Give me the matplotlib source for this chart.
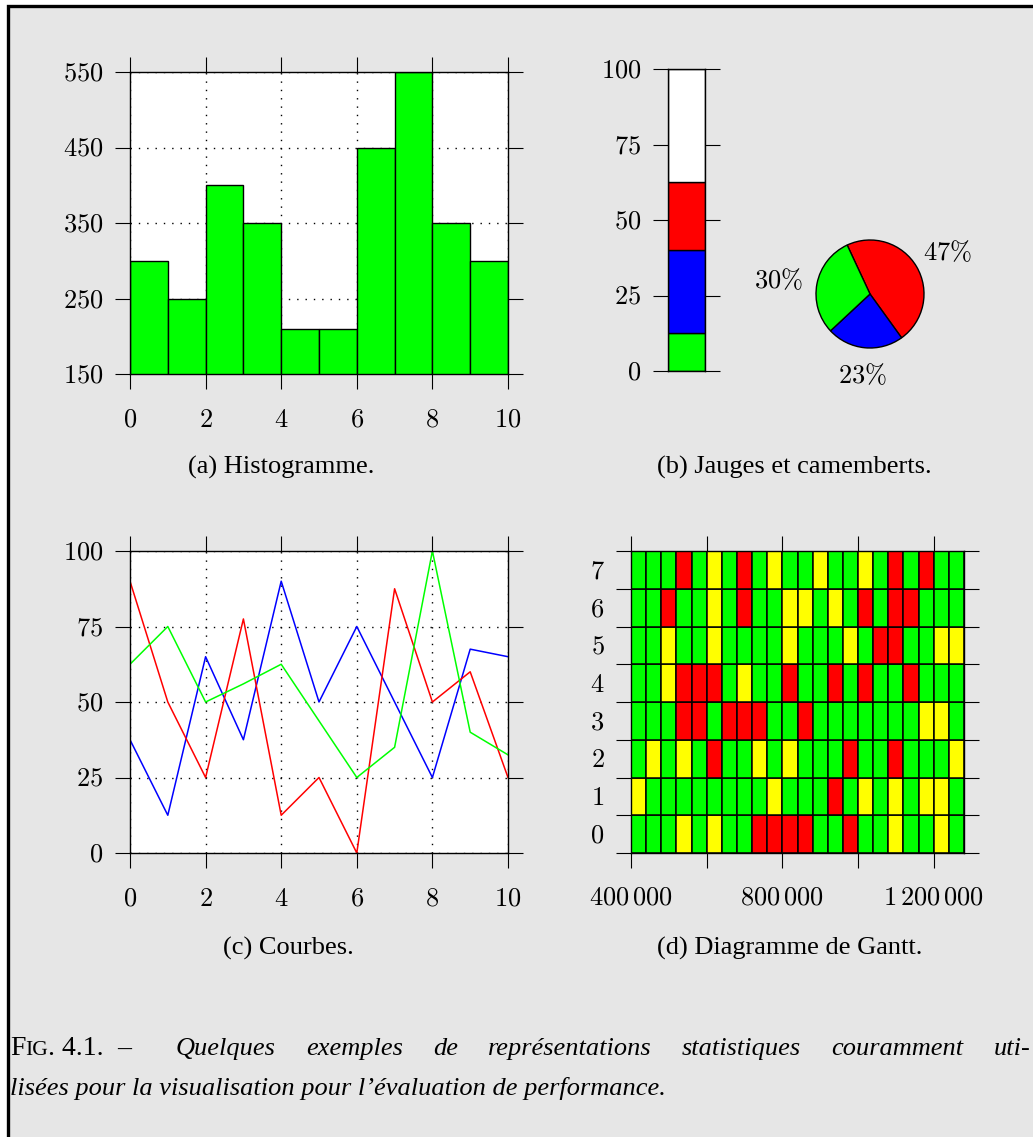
import matplotlib
matplotlib.use('Agg')
import matplotlib.pyplot as plt
from matplotlib import ticker
from matplotlib.patches import Rectangle

plt.rcParams['mathtext.fontset'] = 'cm'
plt.rcParams['font.family'] = ['Liberation Serif', 'DejaVu Serif']

# --- données ---
# (a) histogramme
hist_edges = [0, 1, 2, 3, 4, 5, 6, 7, 8, 9, 10]
hist_values = [300, 250, 400, 350, 210, 210, 450, 550, 350, 300]

# (b) jauge + camembert
gauge_parts = [12.5, 27.5, 22.5, 37.5]          # vert, bleu, rouge, libre
gauge_colors = ['#00ff00', '#0000ff', '#ff0000', 'white']
pie_values = [47, 23, 30]
pie_labels = ['$47\\%$', '$23\\%$', '$30\\%$']
pie_colors = ['#ff0000', '#0000ff', '#00ff00']

# (c) courbes
curve_x = [0, 1, 2, 3, 4, 5, 6, 7, 8, 9, 10]
curve_blue = [37.5, 12.5, 65, 37.5, 90, 50, 75, 50, 25, 67.5, 65]
curve_red = [90, 50, 25, 77.5, 12.5, 25, 0, 87.5, 50, 60, 25]
curve_green = [62.5, 75, 50, 56, 62.5, 43.75, 25, 35, 100, 40, 32.5]

# (d) Gantt : une chaîne par ligne (0 en bas), G=vert, Y=jaune, R=rouge
gantt_t0 = 400000
gantt_slot = 40000
gantt_rows = [
    "GGGYGYGGRRRRGGRGGYGGYG",  # 0
    "YGGGGGGGGYGGGRGYGYGYYG",  # 1
    "GYGYGRGGYGYGGGRGGRGGGY",  # 2
    "GGGRRGRRRGGRGGGGGGGYYG",  # 3
    "GGYRRRGYGGRGGRGRGGRGGG",  # 4
    "GGYGGYGGGGYGGGYGRRGGYY",  # 5
    "GGRGGYGRGGYYGYGRGRRGGG",  # 6
    "GGGRGYGRGYGGYGGYGRGRGG",  # 7
]
gantt_xticks = [400000, 600000, 800000, 1000000, 1200000]
gantt_xtick_labels = ['$400\\,000$', '', '$800\\,000$', '', '$1\\,200\\,000$']
state_colors = {'G': '#00ff00', 'Y': '#ffff00', 'R': '#ff0000'}

captions = ['(a) Histogramme.', '(b) Jauges et camemberts.',
            '(c) Courbes.', '(d) Diagramme de Gantt.']
fig_line1 = 'Quelques exemples de représentations statistiques couramment uti-'
fig_line2 = 'lisées pour la visualisation pour l’évaluation de performance.'

W, H = 1033, 1137
fig = plt.figure(figsize=(W / 100, H / 100), dpi=100, facecolor='white')

# cadre gris
fig.patches.append(Rectangle((8 / W, -0.05), 1.1, 1.05 - 6.5 / H,
                             transform=fig.transFigure, facecolor='#e6e6e6',
                             edgecolor='black', linewidth=2.4, zorder=-10))


def px_axes(x0, y0, x1, y1):
    return fig.add_axes([x0 / W, 1 - y1 / H, (x1 - x0) / W, (y1 - y0) / H])


fmt = ticker.FuncFormatter(lambda v, p: f'${v:g}$')
TL = 10.8
FS = 19


def style_ticks(ax):
    ax.tick_params(direction='out', length=TL, width=0.8, top=True, right=True,
                   labelsize=FS)
    ax.tick_params(axis='x', pad=15)
    ax.tick_params(axis='y', pad=8.5)
    for s in ax.spines.values():
        s.set_linewidth(1)


# (a)
ax1 = px_axes(130, 72, 508, 374)
ax1.bar(hist_edges[:-1], hist_values, width=1, align='edge', color='#00ff00',
        edgecolor='black', linewidth=1)
ax1.set_xlim(0, 10)
ax1.set_ylim(150, 550)
ax1.set_xticks([0, 2, 4, 6, 8, 10])
ax1.set_yticks([150, 250, 350, 450, 550])
ax1.xaxis.set_major_formatter(fmt)
ax1.yaxis.set_major_formatter(fmt)
ax1.grid(True, color='black', linestyle=(0, (1, 5)), linewidth=1)
ax1.set_axisbelow(True)
style_ticks(ax1)

# (c)
ax3 = px_axes(130, 551, 508, 853)
ax3.plot(curve_x, curve_blue, color='#0000ff', linewidth=1.1)
ax3.plot(curve_x, curve_red, color='#ff0000', linewidth=1.1)
ax3.plot(curve_x, curve_green, color='#00ff00', linewidth=1.1)
ax3.set_xlim(0, 10)
ax3.set_ylim(0, 100)
ax3.set_xticks([0, 2, 4, 6, 8, 10])
ax3.set_yticks([0, 25, 50, 75, 100])
ax3.xaxis.set_major_formatter(fmt)
ax3.yaxis.set_major_formatter(fmt)
ax3.grid(True, color='black', linestyle=(0, (1, 5)), linewidth=1)
ax3.set_axisbelow(True)
style_ticks(ax3)

# (b) jauge
ax2 = px_axes(667.5, 69, 705, 371)
bottom = 0
for part, c in zip(gauge_parts, gauge_colors):
    ax2.bar(0, part, bottom=bottom, width=1, align='edge', color=c,
            edgecolor='black', linewidth=1)
    bottom += part
ax2.set_xlim(0, 1)
ax2.set_ylim(0, 100)
ax2.set_xticks([])
ax2.set_yticks([0, 25, 50, 75, 100])
ax2.yaxis.set_major_formatter(fmt)
ax2.tick_params(axis='y', direction='out', length=TL, width=0.8, right=True,
                labelsize=FS, pad=8)
for s in ax2.spines.values():
    s.set_linewidth(1)

# (b) camembert
axp = px_axes(816, 240, 924, 348)
wedges, texts = axp.pie(pie_values, colors=pie_colors, startangle=115,
                        counterclock=False, labels=pie_labels, labeldistance=1.0,
                        wedgeprops=dict(edgecolor='black', linewidth=1),
                        textprops=dict(fontsize=FS))
for t, d in zip(texts, [1.67, 1.44, 1.72]):
    x, y = t.get_position()
    t.set_position((x * d, y * d - 0.08))
    t.set_ha('center')
    t.set_va('center')
axp.set_xlim(-1, 1)
axp.set_ylim(-1, 1)

# (d) Gantt
ax4 = px_axes(631, 551, 964, 853)
for row, states in enumerate(gantt_rows):
    starts = [gantt_t0 + i * gantt_slot for i in range(len(states))]
    ax4.barh(row, [gantt_slot] * len(states), left=starts, height=1,
             align='edge', color=[state_colors[s] for s in states],
             edgecolor='black', linewidth=1.1)
ax4.set_xlim(gantt_t0, gantt_t0 + gantt_slot * len(gantt_rows[0]))
ax4.set_ylim(0, len(gantt_rows))
ax4.set_xticks(gantt_xticks)
ax4.set_xticklabels(gantt_xtick_labels)
ax4.set_yticks([r + 0.5 for r in range(len(gantt_rows))])
ax4.set_yticklabels([f'${r}$' for r in range(len(gantt_rows))])
ax4.set_yticks(range(len(gantt_rows) + 1), minor=True)
ax4.tick_params(axis='x', direction='out', length=TL, width=0.8, top=True,
                labelsize=FS, pad=14)
ax4.tick_params(axis='y', which='major', length=0, labelsize=FS, pad=19)
ax4.tick_params(axis='y', which='minor', direction='out', length=TL, width=0.8,
                left=True, right=True)
for s in ax4.spines.values():
    s.set_linewidth(1)

# sous-titres
for (cx, cy), txt in zip([(281, 467), (794, 467), (288, 948), (790, 948)], captions):
    fig.text(cx / W, 1 - cy / H, txt, ha='center', va='center', fontsize=19)

# légende de la figure : "FIG" en petites capitales, ligne 1 justifiée
base1 = 1 - 1055 / H
base2 = 1 - 1095 / H
renderer = fig.canvas.get_renderer()

prev = fig.text(10 / W, base1, 'F', fontsize=20, va='baseline')
for s, size in [('IG', 15.5), ('. 4.1.', 20), ('  –', 20)]:
    prev = fig.text(0, base1, s, fontsize=size, va='baseline')
    left = fig.texts[-2].get_window_extent(renderer).x1
    prev.set_x(left / W)

words = fig_line1.split()
wtexts = [fig.text(0, base1, w, fontsize=19, style='italic', va='baseline')
          for w in words]
widths = [t.get_window_extent(renderer).width for t in wtexts]
x_left, x_right = 176, 1030
gap = (x_right - x_left - sum(widths)) / (len(words) - 1)
x = x_left
for t, w in zip(wtexts, widths):
    t.set_x(x / W)
    x += w + gap

fig.text(10 / W, base2, fig_line2, fontsize=19, style='italic', va='baseline')

fig.savefig('out.png', dpi=100, facecolor=fig.get_facecolor())
